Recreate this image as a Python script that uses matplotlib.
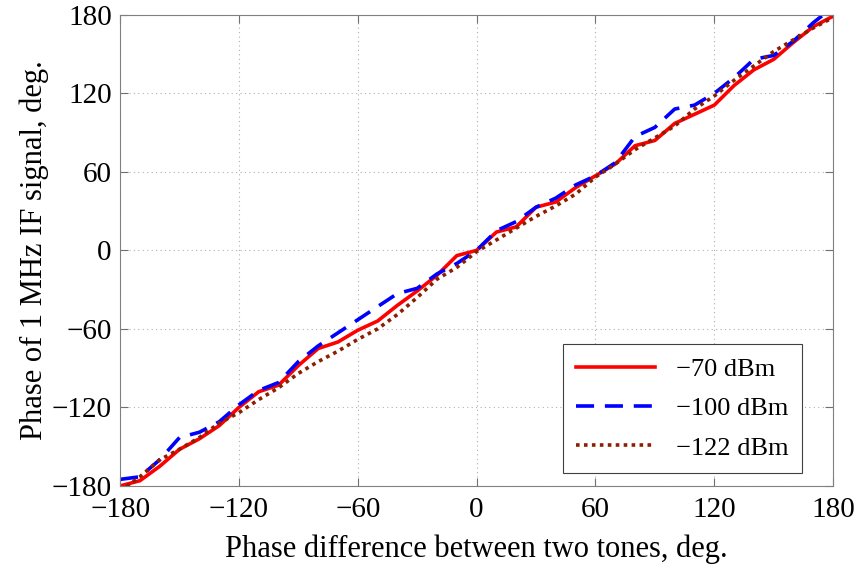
import matplotlib.pyplot as plt
import numpy as np

plt.rcParams['font.family'] = ['Liberation Serif', 'DejaVu Serif']

# phase difference between the tones, deg
phase_diff = np.arange(-180, 181, 10)

p_70 = [-180, -176, -165, -152, -144, -134, -120, -108, -103, -88,
        -75, -70, -61, -54, -42, -31, -19, -4, 0, 14,
        18, 33, 37, 48, 57, 66, 80, 84, 97, 104,
        111, 126, 138, 146, 159, 171, 179]
p_100 = [-175, -173, -160, -143, -139, -131, -118, -107, -101, -85,
         -73, -63, -53, -43, -33, -29, -18, -10, 0, 15,
         22, 33, 40, 50, 57, 67, 87, 94, 108, 111,
         120, 132, 146, 149, 160, 174, 186]
p_122 = [-184, -173, -160, -152, -143, -132, -124, -114, -105, -94,
         -85, -77, -68, -60, -49, -36, -22, -13, -1, 8,
         17, 26, 34, 43, 56, 66, 77, 86, 95, 108,
         118, 130, 141, 152, 161, 170, 178]

labels = ['\u221270 dBm', '\u2212100 dBm', '\u2212122 dBm']
ticks = [-180, -120, -60, 0, 60, 120, 180]
tick_labels = [str(t).replace('-', '\u2212') for t in ticks]

fig = plt.figure(figsize=(8.58, 5.71), dpi=100)
ax = fig.add_axes([0.14, 0.149, 0.831, 0.825])

ax.plot(phase_diff, p_70, color='red', lw=2.6, label=labels[0])
ax.plot(phase_diff, p_100, color='blue', lw=2.6, ls=(0, (5, 3)), label=labels[1])
ax.plot(phase_diff, p_122, color='#8B2000', lw=2.6, ls=(0, (1, 1.2)), label=labels[2])

ax.set_xlim(-180, 180)
ax.set_ylim(-180, 180)
ax.set_xticks(ticks)
ax.set_xticklabels(tick_labels)
ax.set_yticks(ticks)
ax.set_yticklabels(tick_labels)
ax.tick_params(direction='in', top=True, right=True, labelsize=21,
               color='#707070', length=6)
ax.tick_params(axis='x', pad=8)
ax.tick_params(axis='y', pad=6)
for s in ax.spines.values():
    s.set_color('#808080')
    s.set_linewidth(0.8)
ax.grid(True, ls=(0, (1, 3)), color='#b0b0b0', lw=0.8)

ax.set_xlabel('Phase difference between two tones, deg.', fontsize=22, labelpad=8)
ax.set_ylabel('Phase of 1 MHz IF signal, deg.', fontsize=22, labelpad=2)

leg = ax.legend(loc='lower right', fontsize=19, fancybox=False, framealpha=1,
                edgecolor='#404040', handlelength=3.0, borderpad=0.5,
                labelspacing=0.6, handletextpad=0.8,
                bbox_to_anchor=(0.975, 0.0))
leg.get_frame().set_linewidth(0.8)

fig.savefig('out.png', dpi=100)
